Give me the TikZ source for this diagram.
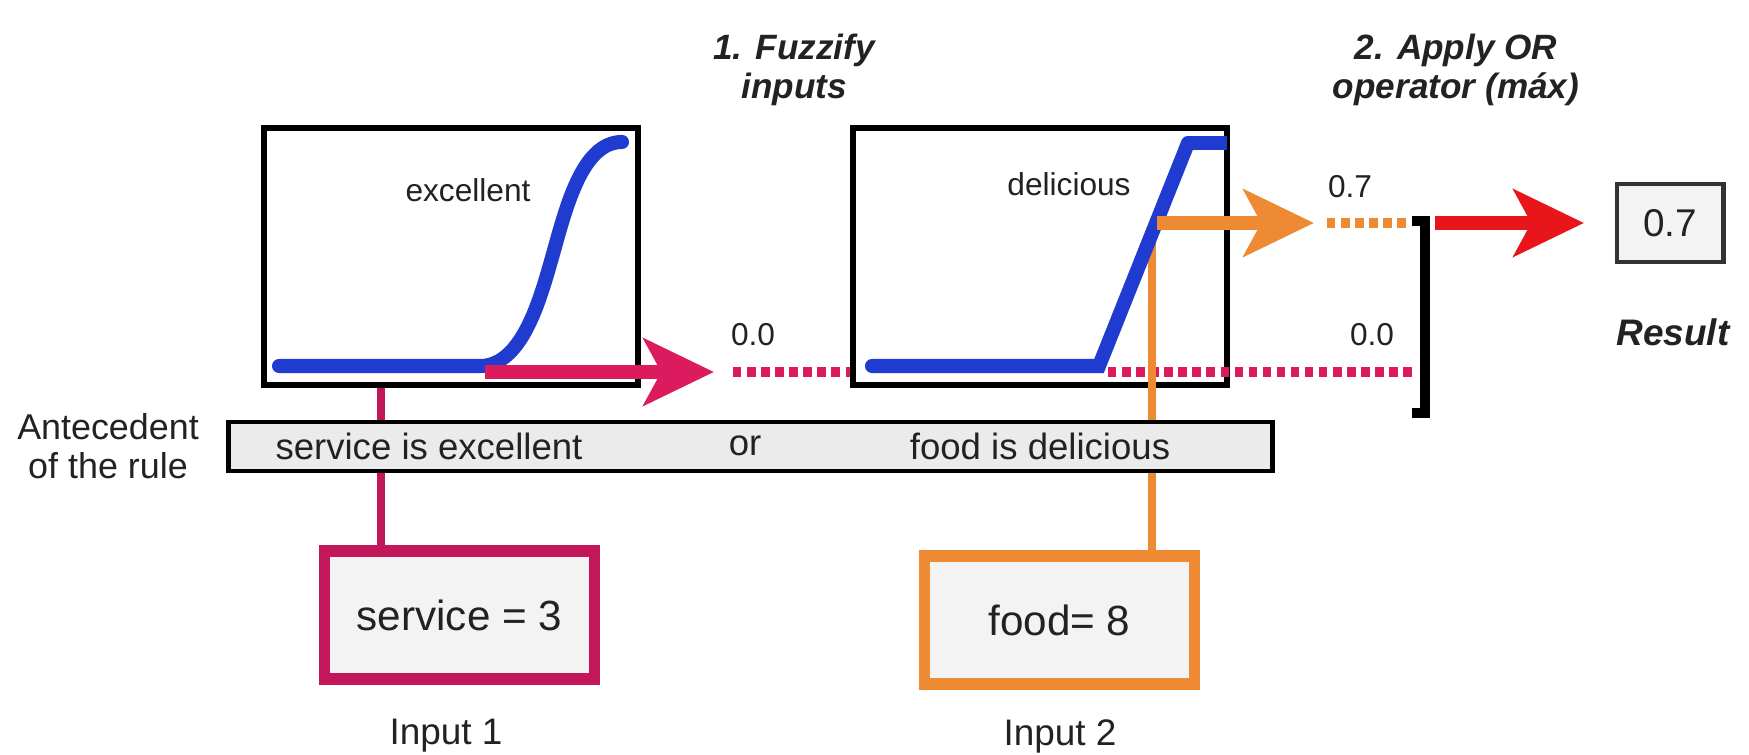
\documentclass[tikz,border=0pt]{standalone}
\usepackage{fontspec}
\setmainfont{Liberation Sans}
\usetikzlibrary{arrows.meta}
\definecolor{mag}{HTML}{DC1A5E}
\definecolor{magbox}{HTML}{C2185B}
\definecolor{org}{HTML}{EE8A33}
\definecolor{redc}{HTML}{E8161B}
\definecolor{bluec}{HTML}{1F3BD0}
\definecolor{txt}{HTML}{222222}
\definecolor{barfill}{HTML}{EBEBEB}
\definecolor{boxfill}{HTML}{F3F3F3}
\begin{document}
\begin{tikzpicture}[x=0.01cm,y=-0.01cm,
  every node/.style={text=txt,inner sep=0pt},
  mfbox/.style={draw=black,line width=1.5pt,fill=white,minimum width=3.74cm,minimum height=2.57cm},
  inbox/.style={line width=3.2pt,fill=boxfill,minimum width=2.70cm,minimum height=1.28cm,font=\fontsize{12}{14}\selectfont},
  curve/.style={draw=bluec,line width=4pt},
  fatarrow/.style={line width=4pt,-{Stealth[length=20pt,width=19pt,inset=5pt]}},
  dotline/.style={line width=2.8pt,dash pattern=on 2.4pt off 1.6pt},
  link/.style={line width=2.4pt},
  title/.style={align=center,font=\fontsize{10}{11}\selectfont\bfseries\itshape},
  val/.style={font=\fontsize{9}{10}\selectfont},
  body/.style={font=\fontsize{10.4}{12}\selectfont}
]
\useasboundingbox (0,0) rectangle (1749,755);

% titles
\node[title] (t1) at (794,70) {1. Fuzzify\\inputs};
\node[title] (t2) at (1456,70) {2. Apply OR\\operator (máx)};

% membership function boxes
\node[mfbox] (mf1) at (451,256.5) {};
\node[mfbox] (mf2) at (1040,256.5) {};
\node[font=\fontsize{9}{10}\selectfont] (lex) at (468,190) {excellent};
\node[font=\fontsize{9}{10}\selectfont] (ldel) at (1069,184) {delicious};

% antecedent bar
\node[draw=black,line width=1.4pt,fill=barfill,minimum width=10.43cm,minimum height=0.49cm] (bar) at (750.5,446.5) {};
\node[body] (a1) at (429,446) {service is excellent};
\node[body] (aor) at (745,446) {or};
\node[body] (a2) at (1040,446) {food is delicious};
\node[align=center,font=\fontsize{10.2}{11}\selectfont] (ante) at (108,446) {Antecedent\\of the rule};

% inputs
\node[inbox,draw=magbox] (in1) at (459.5,615) {service = 3};
\node[inbox,draw=org] (in2) at (1059.5,620) {food= 8};
\node[font=\fontsize{10.5}{12}\selectfont] (lin1) at (446,736) {Input 1};
\node[font=\fontsize{10.5}{12}\selectfont] (lin2) at (1060,736) {Input 2};

% result
\node[draw=black!80,line width=1.4pt,fill=boxfill,minimum width=1.06cm,minimum height=0.78cm,font=\fontsize{11}{12}\selectfont] (res) at (1670,223) {0.7};
\node[font=\fontsize{10.5}{12}\selectfont\bfseries\itshape] (lres) at (1673,332) {Result};

% coordinates
\coordinate (x1) at (381,0);
\coordinate (x2) at (1152,0);
\coordinate (m0) at (485,372);
\coordinate (m1) at (714,372);
\coordinate (d1a) at (733,372);
\coordinate (d1b) at (850,372);
\coordinate (d2a) at (1108,372);
\coordinate (d2b) at (1417,372);
\coordinate (o0) at (1157,223);
\coordinate (o1) at (1314,223);
\coordinate (d3a) at (1327,223);
\coordinate (d3b) at (1411,223);
\coordinate (bt) at (1425,221);
\coordinate (bb) at (1425,413);
\coordinate (r0) at (1435,223);
\coordinate (oc) at (1152,236);

% magenta path (input 1)
\draw[link,draw=magbox] (mf1.south -| x1) -- (bar.north -| x1);
\draw[link,draw=magbox] (bar.south -| x1) -- (in1.north -| x1);
\draw[dotline,draw=mag] (d1a) -- (d1b);
\draw[dotline,draw=mag] (d2a) -- (d2b);
\node[val] (v1) at (753,335) {0.0};
\node[val] (v2) at (1372,335) {0.0};

% orange path (input 2)
\draw[link,draw=org] (oc) -- (bar.north -| x2);
\draw[link,draw=org] (bar.south -| x2) -- (in2.north -| x2);
\draw[dotline,draw=org] (d3a) -- (d3b);
\node[val] (v3) at (1350,187) {0.7};

% blue membership curves
\draw[curve,line cap=round] (279,366) -- (480,366) .. controls (522,366) and (540,300) .. (553,254) .. controls (566,208) and (582,142) .. (622,142);
\draw[curve,line cap=round] (872,366) -- (1099,366) -- (1188,143);
\draw[curve] (1188,143) -- (1227,143);

% fuzzified value arrows
\draw[fatarrow,draw=mag,fill=mag] (m0) -- (m1);
\draw[fatarrow,draw=org,fill=org] (o0) -- (o1);

% bracket and result arrow
\draw[line width=3pt,draw=black] (1412,221) -- (bt) -- (bb) -- (1412,413);
\draw[fatarrow,draw=redc,fill=redc] (r0) -- (res.west -| 1584,0);
\end{tikzpicture}
\end{document}
